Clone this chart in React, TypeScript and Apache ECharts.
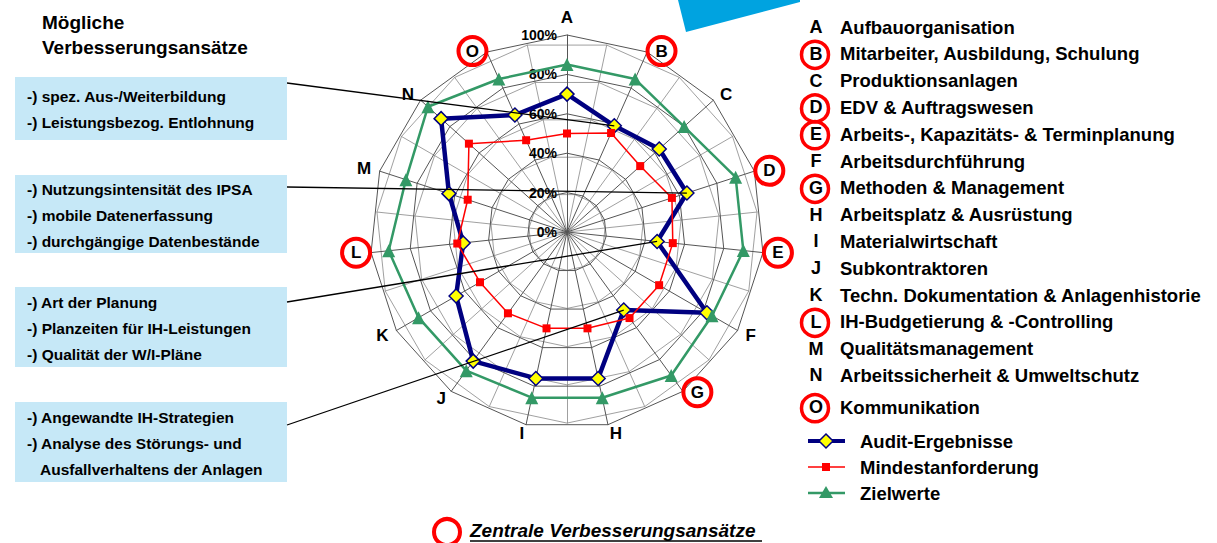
import React, { useEffect, useRef } from "react";
import * as echarts from "echarts";

// ---------- data ----------
const categories = ["A", "B", "C", "D", "E", "F", "G", "H", "I", "J", "K", "L", "M", "N", "O"];
const categoryNames = [
  "Aufbauorganisation",
  "Mitarbeiter, Ausbildung, Schulung",
  "Produktionsanlagen",
  "EDV & Auftragswesen",
  "Arbeits-, Kapazitäts- & Terminplanung",
  "Arbeitsdurchführung",
  "Methoden & Management",
  "Arbeitsplatz & Ausrüstung",
  "Materialwirtschaft",
  "Subkontraktoren",
  "Techn. Dokumentation & Anlagenhistorie",
  "IH-Budgetierung & -Controlling",
  "Qualitätsmanagement",
  "Arbeitssicherheit & Umweltschutz",
  "Kommunikation",
];
const circledCategories = ["B", "D", "E", "G", "L", "O"];
const seriesNames = ["Audit-Ergebnisse", "Mindestanforderung", "Zielwerte"];
const auditValues = [70, 59, 63, 64, 46, 82, 49, 76, 76, 81, 65, 53, 63, 86, 65];
const mindestValues = [50, 55, 50, 56, 54, 54, 54, 50, 50, 51, 51, 56, 53, 67, 51];
const zielValues = [85, 85, 80, 90, 90, 85, 90, 86, 86, 87, 87, 91, 86, 95, 85];
const axisMax = 100;
const titleLines = ["Mögliche", "Verbesserungsansätze"];
const boxTexts = [
  ["-) spez. Aus-/Weiterbildung", "-) Leistungsbezog. Entlohnung"],
  ["-) Nutzungsintensität des IPSA", "-) mobile Datenerfassung", "-) durchgängige Datenbestände"],
  ["-) Art der Planung", "-) Planzeiten für IH-Leistungen", "-) Qualität der W/I-Pläne"],
  ["-) Angewandte IH-Strategien", "-) Analyse des Störungs- und", "Ausfallverhaltens der Anlagen"],
];
const boxTargets = ["B", "D", "E", "G"];
const footnote = "Zentrale Verbesserungsansätze";

// ---------- layout ----------
const FONT = '"Liberation Sans", Arial, Helvetica, sans-serif';
const CX = 567;
const CY = 232;
const R = 197;
const BOXES = [
  { y: 77, h: 63, lineY: 83 },
  { y: 175, h: 78, lineY: 187 },
  { y: 287, h: 80, lineY: 302 },
  { y: 402, h: 80, lineY: 425 },
];
const NAVY = "#000080";
const RED = "#FF0000";
const GREEN = "#339966";
const GRID = "#555555";

export default function App() {
  const ref = useRef<HTMLDivElement>(null);

  useEffect(() => {
    if (!ref.current) return;
    const chart = echarts.init(ref.current, null, { renderer: "svg" });
    const n = categories.length;
    // ECharts lays radar indicators counter-clockwise; reorder so A..O run clockwise
    const order = [0, ...Array.from({ length: n - 1 }, (_, k) => n - 1 - k)];
    const reorder = (arr: number[]) => order.map((i) => arr[i]);

    const indicator = order.map((i, k) => {
      const base: any = {
        name: categories[i],
        min: 0,
        max: axisMax,
        nameGap: circledCategories.includes(categories[i]) ? 1 : 9,
      };
      if (k === 0) {
        base.axisLabel = {
          show: true,
          formatter: "{value}%",
          color: "#000",
          fontFamily: FONT,
          fontWeight: "bold",
          fontSize: 14,
          margin: 10,
        };
      }
      return base;
    });
    const decoIndicator = categories.map(() => ({ name: "", min: 0, max: axisMax }));

    const pointOf = (cat: string, values: number[]) => {
      const idx = categories.indexOf(cat);
      const ang = (idx * 2 * Math.PI) / n;
      const r = (values[idx] / axisMax) * R;
      return [CX + r * Math.sin(ang), CY - r * Math.cos(ang)];
    };

    const txt = (x: number, y: number, text: string, font: string, align = "left") => ({
      type: "text",
      x,
      y,
      style: {
        text,
        font,
        fill: "#000",
        align,
        textAlign: align,
        verticalAlign: "middle",
        textVerticalAlign: "middle",
      },
      z: 10,
    });

    const graphics: any[] = [];
    // blue decoration top
    graphics.push({
      type: "polygon",
      shape: { points: [[678, 0], [686, 32], [800, 2], [800, 0]] },
      style: { fill: "#00A3E0" },
      z: 1,
    });
    // title
    titleLines.forEach((t, i) => graphics.push(txt(42, 22 + i * 25, t, `bold 19px ${FONT}`)));
    // boxes
    BOXES.forEach((b, bi) => {
      graphics.push({
        type: "rect",
        shape: { x: 15, y: b.y, width: 272, height: b.h },
        style: { fill: "#C6E8F7" },
        z: 5,
      });
      const lines = boxTexts[bi];
      const mid = b.y + b.h / 2 + 1;
      lines.forEach((t, li) => {
        graphics.push(
          txt(t.startsWith("-)") ? 27 : 40, mid + (li - (lines.length - 1) / 2) * 26, t, `bold 15.5px ${FONT}`)
        );
      });
      const end = pointOf(boxTargets[bi], auditValues);
      graphics.push({
        type: "line",
        shape: { x1: 287, y1: b.lineY, x2: end[0], y2: end[1] },
        style: { stroke: "#000", lineWidth: 1.3 },
        z: 100,
      });
    });
    // right-hand category list
    categories.forEach((c, i) => {
      const y = 27 + i * 26.8 + (i === n - 1 ? 5 : 0);
      graphics.push(txt(816, y, c, `bold 18px ${FONT}`, "center"));
      graphics.push(txt(840, y, categoryNames[i], `bold 18.5px ${FONT}`));
      if (circledCategories.includes(c)) {
        graphics.push({
          type: "circle",
          shape: { cx: 815, cy: y + 1, r: 13.5 },
          style: { fill: "none", stroke: RED, lineWidth: 3.5 },
          z: 11,
        });
      }
    });
    // series legend
    const legY = [441, 467, 493];
    const legColors = [NAVY, RED, GREEN];
    const legWidths = [4, 1.5, 2.5];
    seriesNames.forEach((s, i) => {
      const y = legY[i];
      graphics.push({
        type: "line",
        shape: { x1: 808, y1: y, x2: 845, y2: y },
        style: { stroke: legColors[i], lineWidth: legWidths[i] },
        z: 10,
      });
      if (i === 0) {
        graphics.push({
          type: "polygon",
          shape: { points: [[826, y - 7], [833, y], [826, y + 7], [819, y]] },
          style: { fill: "#FFFF00", stroke: NAVY, lineWidth: 1.5 },
          z: 11,
        });
      } else if (i === 1) {
        graphics.push({
          type: "rect",
          shape: { x: 822, y: y - 4, width: 8, height: 8 },
          style: { fill: RED },
          z: 11,
        });
      } else {
        graphics.push({
          type: "polygon",
          shape: { points: [[826, y - 7], [833, y + 5], [819, y + 5]] },
          style: { fill: GREEN },
          z: 11,
        });
      }
      graphics.push(txt(860, y, s, `bold 18.5px ${FONT}`));
    });
    // footnote
    graphics.push({
      type: "circle",
      shape: { cx: 447, cy: 532, r: 13 },
      style: { fill: "none", stroke: RED, lineWidth: 4 },
      z: 10,
    });
    graphics.push(txt(470, 530, footnote, `italic bold 19px ${FONT}`));
    graphics.push({
      type: "line",
      shape: { x1: 470, y1: 541, x2: 762, y2: 541 },
      style: { stroke: "#000", lineWidth: 1.5 },
      z: 10,
    });

    const option: any = {
      animation: false,
      backgroundColor: "#fff",
      textStyle: { fontFamily: FONT },
      radar: [
        {
          center: [CX, CY],
          radius: R,
          startAngle: 90,
          shape: "polygon",
          splitNumber: 5,
          indicator,
          nameGap: 9,
          axisName: {
            color: "#000",
            fontFamily: FONT,
            fontWeight: "bold",
            fontSize: 17,
            formatter: (name: string) => (circledCategories.includes(name) ? `{c|${name}}` : name),
            rich: {
              c: {
                color: "#000",
                fontFamily: FONT,
                fontWeight: "bold",
                fontSize: 17,
                width: 22,
                height: 22,
                lineHeight: 22,
                align: "center",
                padding: [3, 3, 3, 3],
                borderColor: RED,
                borderWidth: 4,
                borderRadius: 15,
              },
            },
          },
          axisLine: { lineStyle: { color: GRID, width: 1 } },
          splitLine: { lineStyle: { color: GRID, width: 1 } },
          splitArea: { show: false },
          axisTick: { show: false },
          axisLabel: { show: false },
          z: 2,
        },
        {
          center: [CX, CY],
          radius: R * 0.97,
          startAngle: 90 + 12,
          shape: "polygon",
          splitNumber: 5,
          indicator: decoIndicator,
          axisName: { show: false },
          axisLine: { lineStyle: { color: "#888", width: 0.8 } },
          splitLine: { lineStyle: { color: "#888", width: 0.8 } },
          splitArea: { show: false },
          axisTick: { show: false },
          axisLabel: { show: false },
          z: 1,
        },
      ],
      graphic: { elements: graphics },
      series: [
        {
          type: "radar",
          radarIndex: 0,
          z: 3,
          data: [
            {
              name: seriesNames[0],
              value: reorder(auditValues),
              symbol: "diamond",
              symbolSize: 14,
              itemStyle: { color: "#FFFF00", borderColor: NAVY, borderWidth: 1.5 },
              lineStyle: { color: NAVY, width: 4.5 },
            },
          ],
        },
        {
          type: "radar",
          radarIndex: 0,
          z: 4,
          data: [
            {
              name: seriesNames[1],
              value: reorder(mindestValues),
              symbol: "rect",
              symbolSize: 8,
              itemStyle: { color: RED },
              lineStyle: { color: RED, width: 1.5 },
            },
          ],
        },
        {
          type: "radar",
          radarIndex: 0,
          z: 5,
          data: [
            {
              name: seriesNames[2],
              value: reorder(zielValues),
              symbol: "triangle",
              symbolSize: 13,
              itemStyle: { color: GREEN },
              lineStyle: { color: GREEN, width: 2.5 },
            },
          ],
        },
      ],
    };
    chart.setOption(option);
    return () => chart.dispose();
  }, []);

  return (
    <div
      ref={ref}
      style={{ position: "absolute", left: 0, top: 0, width: 1217, height: 543, background: "#fff" }}
    />
  );
}
